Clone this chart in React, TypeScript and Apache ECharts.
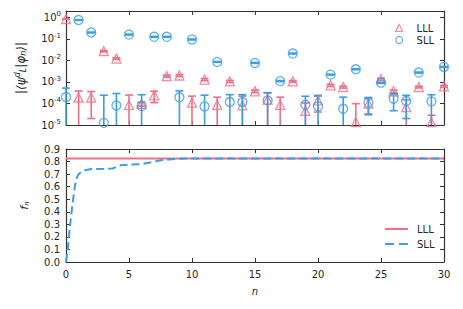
import React, { useEffect, useRef } from 'react';
import * as echarts from 'echarts';

// ---- data ----
const nValues = [0, 1, 2, 3, 4, 5, 6, 7, 8, 9, 10, 11, 12, 13, 14, 15, 16, 17, 18, 19, 20, 21, 22, 23, 24, 25, 26, 27, 28, 29, 30];

const lllOverlap = [0.85, 1.9e-4, 1.9e-4, 0.027, 0.0123, 8.7e-5, 9.5e-5, 2.4e-4, 1.87e-3, 2.0e-3, 1.1e-4, 1.3e-3, 8.7e-5, 1.07e-3, 8.1e-5, 3.7e-4, 1.5e-4, 8.7e-5, 1.07e-3, 4.5e-5, 1.4e-4, 7.0e-4, 5.8e-4, 1.35e-5, 1.0e-4, 1.35e-3, 3.7e-4, 6.8e-5, 5.8e-4, 1.35e-5, 6.3e-4];
const lllError = [0.02, 1.9e-4, 1.7e-4, 0.002, 0.001, 1.6e-4, 2e-5, 1.3e-4, 2e-4, 2e-4, 1.1e-4, 1.5e-4, 1.1e-4, 1.2e-4, 1.4e-4, 5e-5, 1.6e-4, 1.1e-4, 1e-4, 6e-5, 1e-4, 8e-5, 6e-5, 8.5e-5, 6.7e-5, 1.5e-4, 5e-5, 8e-5, 5e-5, 1.5e-5, 6e-5];

const sllOverlap = [2e-4, 0.76, 0.2, 1.26e-5, 8.1e-5, 0.16, 7.6e-5, 0.126, 0.126, 1.94e-4, 0.095, 7.3e-5, 8.6e-3, 1.17e-4, 1.17e-4, 7.7e-3, 1.4e-4, 1.1e-3, 0.021, 8.7e-5, 7.3e-5, 2.2e-3, 5.7e-5, 3.9e-3, 1.1e-4, 9.3e-4, 1.66e-4, 1.3e-4, 2.75e-3, 1.26e-4, 5.0e-3];
const sllError = [3.2e-4, 0.03, 0.01, 2.3e-4, 2.1e-4, 0.008, 1.8e-4, 0.006, 0.006, 1.9e-4, 0.005, 1.7e-4, 4e-4, 1.4e-4, 1.4e-4, 4e-4, 1.8e-4, 6e-5, 0.001, 1.3e-4, 1.5e-4, 1e-4, 1.4e-4, 2e-4, 8e-5, 5e-5, 1.2e-4, 1.1e-4, 1.5e-4, 1.3e-4, 2.5e-4];

const fnLLL: [number, number][] = [[0, 0.825], [5, 0.825], [10, 0.825], [15, 0.825], [20, 0.825], [25, 0.825], [30, 0.825]];
const fnSLL: [number, number][] = [
  [0, 0.0], [0.15, 0.11], [0.3, 0.27], [0.5, 0.45], [0.7, 0.6], [0.85, 0.67], [1, 0.7], [1.3, 0.725],
  [2, 0.74], [3, 0.742], [3.7, 0.745], [4.3, 0.77], [5, 0.775], [6, 0.78], [6.8, 0.795], [7.5, 0.81],
  [8.3, 0.818], [9, 0.822], [10, 0.825], [15, 0.825], [20, 0.825], [25, 0.825], [30, 0.825],
];

const xTickStep = 5;
const topLogMin = -5;
const topLogMax = Math.log10(2);
const fnTickStep = 0.1;

const PINK = '#ef6f88';
const BLUE = '#3a9ee6';
const AXIS = '#333333';
const TXT = '#262626';
const FONT = 'DejaVu Sans';

const SOLID_ICON = 'path://M0,0L0.01,0M0,10L0.01,10M0,4H23V6H0Z';
const DASH_ICON = 'path://M0,0L0.01,0M0,10L0.01,10M0,4H9V6H0ZM14,4H23V6H14Z';

function errData(vals: number[], errs: number[]) {
  return vals.map((v, i) => {
    const hi = Math.min(Math.log10(v + errs[i]), topLogMax);
    const loRaw = v - errs[i];
    const lo = loRaw > 0 ? Math.max(Math.log10(loRaw), topLogMin) : topLogMin;
    const capLo = loRaw > 0 && Math.log10(loRaw) > topLogMin ? 1 : 0;
    return [nValues[i], hi, lo, capLo];
  });
}

function errRender(color: string) {
  return (params: any, api: any) => {
    const x = api.value(0);
    const pHi = api.coord([x, api.value(1)]);
    const pLo = api.coord([x, api.value(2)]);
    const style = { stroke: color, lineWidth: 1.6 };
    const children: any[] = [
      { type: 'line', shape: { x1: pHi[0], y1: pHi[1], x2: pLo[0], y2: pLo[1] }, style },
      { type: 'line', shape: { x1: pHi[0] - 4, y1: pHi[1], x2: pHi[0] + 4, y2: pHi[1] }, style },
    ];
    if (api.value(3)) {
      children.push({ type: 'line', shape: { x1: pLo[0] - 4, y1: pLo[1], x2: pLo[0] + 4, y2: pLo[1] }, style });
    }
    return { type: 'group', children };
  };
}

const axisLine = { show: true, onZero: false, lineStyle: { color: AXIS, width: 1.2 } };
const axisTick = { show: true, inside: true, length: 4, lineStyle: { color: AXIS, width: 1 } };

export default function App() {
  const ref = useRef<HTMLDivElement>(null);
  useEffect(() => {
    if (!ref.current) return;
    const chart = echarts.init(ref.current, undefined, { renderer: 'svg' });
    const option: any = {
      animation: false,
      backgroundColor: '#ffffff',
      textStyle: { fontFamily: FONT },
      grid: [
        { left: 66, top: 11, width: 378, height: 114 },
        { left: 66, top: 149, width: 378, height: 113 },
      ],
      xAxis: [
        { gridIndex: 0, type: 'value', min: 0, max: 30, interval: xTickStep, position: 'bottom', axisLine, axisTick, axisLabel: { show: false }, splitLine: { show: false } },
        { gridIndex: 0, type: 'value', min: 0, max: 30, interval: xTickStep, position: 'top', axisLine, axisTick, axisLabel: { show: false }, splitLine: { show: false } },
        {
          gridIndex: 1, type: 'value', min: 0, max: 30, interval: xTickStep, position: 'bottom', axisLine, axisTick,
          axisLabel: { show: true, fontSize: 10, color: TXT, margin: 7, fontFamily: FONT },
          splitLine: { show: false },
          name: 'n', nameLocation: 'middle', nameGap: 24,
          nameTextStyle: { fontSize: 10, fontStyle: 'italic', color: TXT, fontFamily: FONT },
        },
        { gridIndex: 1, type: 'value', min: 0, max: 30, interval: xTickStep, position: 'top', axisLine, axisTick, axisLabel: { show: false }, splitLine: { show: false } },
      ],
      yAxis: [
        {
          gridIndex: 0, type: 'value', min: topLogMin, max: topLogMax, interval: 1, position: 'left', axisLine, axisTick,
          splitLine: { show: false },
          axisLabel: {
            show: true, margin: 5, showMaxLabel: false,
            formatter: (v: number) => (Math.abs(v - Math.round(v)) < 1e-6 ? `{b|10}{s|${Math.round(v)}}` : ''),
            rich: {
              b: { fontSize: 10, color: TXT, fontFamily: FONT },
              s: { fontSize: 7, color: TXT, fontFamily: FONT, verticalAlign: 'top', padding: [0, 0, 6, 0] },
            },
          },
          name: '|⟨ψ{sup|d}{sub|L}|φ{sub|n}⟩|',
          nameLocation: 'middle', nameRotate: 90, nameGap: 38,
          nameTextStyle: {
            fontSize: 12, color: TXT, fontFamily: FONT, fontStyle: 'italic',
            rich: {
              sup: { fontSize: 8, color: TXT, fontStyle: 'italic', padding: [0, 0, 7, 0] },
              sub: { fontSize: 8, color: TXT, fontStyle: 'italic', padding: [6, 0, 0, 0] },
            },
          },
        },
        { gridIndex: 0, type: 'value', min: topLogMin, max: topLogMax, interval: 1, position: 'right', axisLine, axisTick, axisLabel: { show: false }, splitLine: { show: false } },
        {
          gridIndex: 1, type: 'value', min: 0, max: 0.9, interval: fnTickStep, position: 'left', axisLine, axisTick,
          splitLine: { show: false },
          axisLabel: { show: true, fontSize: 10, color: TXT, margin: 6, fontFamily: FONT, formatter: (v: number) => v.toFixed(1) },
          name: '{i|f}{sub|n}', nameLocation: 'middle', nameRotate: 90, nameGap: 36,
          nameTextStyle: {
            fontSize: 10, color: TXT, fontFamily: FONT,
            rich: {
              i: { fontSize: 11, fontStyle: 'italic', color: TXT },
              sub: { fontSize: 7, fontStyle: 'italic', color: TXT, padding: [5, 0, 0, 0] },
            },
          },
        },
        { gridIndex: 1, type: 'value', min: 0, max: 0.9, interval: fnTickStep, position: 'right', axisLine, axisTick, axisLabel: { show: false }, splitLine: { show: false } },
      ],
      legend: [
        {
          data: [{ name: 'LLL', icon: 'triangle' }, { name: 'SLL', icon: 'circle' }],
          orient: 'vertical', left: 395, top: 23, padding: 0, itemWidth: 7, itemHeight: 7, itemGap: 2,
          itemStyle: { borderWidth: 1.2 },
          textStyle: { fontSize: 10, color: TXT, fontFamily: FONT, padding: [0, 0, 0, 9] }, selectedMode: false,
        },
        {
          data: [{ name: 'LLL ', icon: SOLID_ICON }, { name: 'SLL ', icon: DASH_ICON }],
          orient: 'vertical', left: 385, top: 224, padding: 0, itemWidth: 23, itemHeight: 10, itemGap: 5,
          formatter: (name: string) => name.trim(),
          textStyle: { fontSize: 10, color: TXT, fontFamily: FONT, padding: [0, 0, 0, 4] }, selectedMode: false,
        },
      ],
      series: [
        { type: 'custom', name: 'errL', xAxisIndex: 0, yAxisIndex: 0, data: errData(lllOverlap, lllError), renderItem: errRender(PINK), encode: { x: 0, y: [1, 2] }, z: 2 },
        {
          type: 'scatter', name: 'LLL', xAxisIndex: 0, yAxisIndex: 0, symbol: 'triangle', symbolSize: 9,
          itemStyle: { color: 'rgba(0,0,0,0)', borderColor: PINK, borderWidth: 1.3 },
          data: lllOverlap.map((v, i) => [nValues[i], Math.log10(v)]), z: 3,
        },
        { type: 'custom', name: 'errS', xAxisIndex: 0, yAxisIndex: 0, data: errData(sllOverlap, sllError), renderItem: errRender(BLUE), encode: { x: 0, y: [1, 2] }, z: 4 },
        {
          type: 'scatter', name: 'SLL', xAxisIndex: 0, yAxisIndex: 0, symbol: 'circle', symbolSize: 9,
          itemStyle: { color: 'rgba(0,0,0,0)', borderColor: BLUE, borderWidth: 1.3 },
          data: sllOverlap.map((v, i) => [nValues[i], Math.log10(v)]), z: 5,
        },
        {
          type: 'line', name: 'LLL ', xAxisIndex: 2, yAxisIndex: 2, data: fnLLL, symbol: 'none', showSymbol: false,
          lineStyle: { color: PINK, width: 2 }, itemStyle: { color: PINK },
        },
        {
          type: 'line', name: 'SLL ', xAxisIndex: 2, yAxisIndex: 2, data: fnSLL, symbol: 'none', showSymbol: false,
          lineStyle: { color: BLUE, width: 2, type: [8, 4] }, itemStyle: { color: BLUE },
        },
      ],
    };
    chart.setOption(option);
    return () => chart.dispose();
  }, []);
  return <div ref={ref} style={{ position: 'fixed', left: 0, top: 0, width: 463, height: 309 }} />;
}
